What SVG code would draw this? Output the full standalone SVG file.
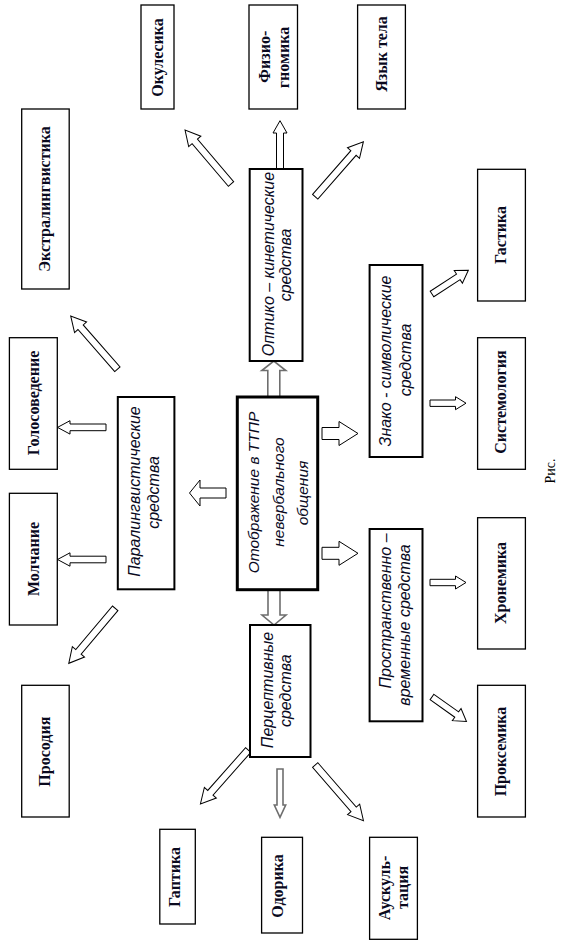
<svg xmlns="http://www.w3.org/2000/svg" width="568" height="943" viewBox="0 0 568 943">
<style>
.leaf{fill:#fff;stroke:#000;stroke-width:1.3}
.mid{fill:#fff;stroke:#000;stroke-width:2}
.core{fill:#fff;stroke:#000;stroke-width:3}
.lt{font-family:"Liberation Serif","Times New Roman",serif;font-weight:bold;font-size:16px;fill:#0a0a1e;text-anchor:middle}
.it{font-family:"Liberation Sans",Arial,sans-serif;font-style:italic;font-size:16px;fill:#0a0a1e;text-anchor:middle}
.itc{font-family:"Liberation Sans",Arial,sans-serif;font-style:italic;font-size:15.5px;fill:#0a0a1e;text-anchor:middle}
.arr{fill:#fff;stroke:#000;stroke-width:1}
.arrg{fill:#fff;stroke:#6e6e6e;stroke-width:1.6}
.cap{font-family:"Liberation Serif","Times New Roman",serif;font-size:14px;fill:#000;text-anchor:middle}
</style>
<rect width="568" height="943" fill="#fff"/>

<g id="connectors">
  <polygon class="arrg" points="267.8,397 267.8,370.5 261.8,370.5 273.8,361 285.8,370.5 279.8,370.5 279.8,397"/>
  <polygon class="arrg" points="268,590 268,615 262,615 274,625 286,615 280,615 280,590"/>
  <polygon class="arr" points="226,488 200,488 200,480 189.5,493 200,506 200,498 226,498"/>
  <polygon class="arr" points="322,427.5 339,427.5 339,421.5 358,433.5 339,445.5 339,439.5 322,439.5"/>
  <polygon class="arr" points="322,547.3 339,547.3 339,541.3 358,553.3 339,565.3 339,559.3 322,559.3"/>
  <polygon class="arr" points="106,424 70,424 70,420.7 57.5,427.4 70,434.1 70,430.7 106,430.7"/>
  <polygon class="arr" points="106,556.2 70,556.2 70,552.8 57.5,559.5 70,566.2 70,562.8 106,562.8"/>
  <polygon class="arr" transform="translate(117.4,369.3) rotate(-131.2)" points="0,-3.5 55.9,-3.5 55.9,-8 70.9,0 55.9,8 55.9,3.5 0,3.5"/>
  <polygon class="arr" transform="translate(115.2,608.3) rotate(130.15)" points="0,-3.5 57,-3.5 57,-8 72,0 57,8 57,3.5 0,3.5"/>
  <polygon class="arr" transform="translate(231,184) rotate(-130.4)" points="0,-3.5 55.9,-3.5 55.9,-8 70.9,0 55.9,8 55.9,3.5 0,3.5"/>
  <polygon class="arr" points="276.5,169 276.5,133 273,133 280,120.7 287,133 283.5,133 283.5,169"/>
  <polygon class="arr" transform="translate(315.2,196.7) rotate(-48.77)" points="0,-3.5 58.1,-3.5 58.1,-8 73.1,0 58.1,8 58.1,3.5 0,3.5"/>
  <polygon class="arr" transform="translate(432,294) rotate(-33.1)" points="0,-3.3 31.4,-3.3 31.4,-7.5 43.4,0 31.4,7.5 31.4,3.3 0,3.3"/>
  <polygon class="arr" points="430,400 455.5,400 455.5,396.7 466,403.2 455.5,409.7 455.5,406.4 430,406.4"/>
  <polygon class="arr" points="430,579.3 455.5,579.3 455.5,576 466,582.5 455.5,589 455.5,585.7 430,585.7"/>
  <polygon class="arr" transform="translate(432,697) rotate(35.4)" points="0,-3.3 30.3,-3.3 30.3,-7.5 42.3,0 30.3,7.5 30.3,3.3 0,3.3"/>
  <polygon class="arr" transform="translate(248.2,750) rotate(131.5)" points="0,-3.5 57.1,-3.5 57.1,-8 72.1,0 57.1,8 57.1,3.5 0,3.5"/>
  <polygon class="arrg" points="277,769 277,805 274.3,805 280,817.3 285.7,805 283,805 283,769"/>
  <polygon class="arr" transform="translate(315.2,765) rotate(49.1)" points="0,-3.5 58.7,-3.5 58.7,-8 73.7,0 58.7,8 58.7,3.5 0,3.5"/>
</g>

<g id="core">
  <rect class="core" x="237.3" y="397" width="80.4" height="192.7"/>
  <text class="itc" transform="translate(259,492.5) rotate(-90)">Отображение в ТТПР</text>
  <text class="itc" transform="translate(284,492) rotate(-90)">невербального</text>
  <text class="itc" transform="translate(307.5,493) rotate(-90)">общения</text>
</g>

<g id="optiko">
  <rect class="mid" x="249.7" y="169" width="52.8" height="192"/>
  <text class="it" transform="translate(274,264) rotate(-90)">Оптико – кинетические</text>
  <text class="it" transform="translate(290.8,265) rotate(-90)">средства</text>
</g>
<g id="znako">
  <rect class="mid" x="369.6" y="265" width="52.9" height="192"/>
  <text class="it" transform="translate(391,361) rotate(-90)">Знако - символические</text>
  <text class="it" transform="translate(410.8,360) rotate(-90)">средства</text>
</g>
<g id="prostr">
  <rect class="mid" x="369.6" y="529" width="52.9" height="192.3"/>
  <text class="it" transform="translate(391.3,611) rotate(-90)">Пространственно –</text>
  <text class="it" transform="translate(410.3,625) rotate(-90)">временные средства</text>
</g>
<g id="percept">
  <rect class="mid" x="250" y="625" width="60.5" height="132"/>
  <text class="it" transform="translate(272.5,690) rotate(-90)">Перцептивные</text>
  <text class="it" transform="translate(290.8,690.7) rotate(-90)">средства</text>
</g>
<g id="paraling">
  <rect class="mid" x="117.8" y="397" width="56.6" height="192.3"/>
  <text class="it" transform="translate(140,491.5) rotate(-90)">Паралингвистические</text>
  <text class="it" transform="translate(158.6,492.5) rotate(-90)">средства</text>
</g>

<g id="okulesika">
  <rect class="leaf" x="141" y="5" width="33" height="104"/>
  <text class="lt" transform="translate(163,57.5) rotate(-90)">Окулесика</text>
</g>
<g id="fiziognomika">
  <rect class="leaf" x="249" y="5" width="48.5" height="104"/>
  <text class="lt" transform="translate(269.5,56.7) rotate(-90)">Физио-</text>
  <text class="lt" transform="translate(289,57.5) rotate(-90)">гномика</text>
</g>
<g id="yazyk">
  <rect class="leaf" x="357.6" y="5" width="47.8" height="104"/>
  <text class="lt" transform="translate(386.5,54) rotate(-90)">Язык тела</text>
</g>
<g id="ekstra">
  <rect class="leaf" x="21.7" y="109" width="47.5" height="180"/>
  <text class="lt" transform="translate(49.5,199) rotate(-90)">Экстралингвистика</text>
</g>
<g id="golos">
  <rect class="leaf" x="9.4" y="337.7" width="47.9" height="131.6"/>
  <text class="lt" transform="translate(38.5,403) rotate(-90)">Голосоведение</text>
</g>
<g id="molchanie">
  <rect class="leaf" x="9.4" y="493.3" width="47.9" height="131.7"/>
  <text class="lt" transform="translate(38.5,559) rotate(-90)">Молчание</text>
</g>
<g id="prosodiya">
  <rect class="leaf" x="21.7" y="685.3" width="47.5" height="131.7"/>
  <text class="lt" transform="translate(49.5,751.7) rotate(-90)">Просодия</text>
</g>
<g id="gastika">
  <rect class="leaf" x="477.6" y="169.3" width="47.8" height="131.7"/>
  <text class="lt" transform="translate(505.5,235) rotate(-90)">Гастика</text>
</g>
<g id="sistemologiya">
  <rect class="leaf" x="477.6" y="337.7" width="47.8" height="131.6"/>
  <text class="lt" transform="translate(505.5,402) rotate(-90)">Системология</text>
</g>
<g id="hronemika">
  <rect class="leaf" x="477.6" y="517.7" width="47.8" height="131.3"/>
  <text class="lt" transform="translate(505.5,583) rotate(-90)">Хронемика</text>
</g>
<g id="proksemika">
  <rect class="leaf" x="477.6" y="685.3" width="47.8" height="131.7"/>
  <text class="lt" transform="translate(505.5,751.5) rotate(-90)">Проксемика</text>
</g>
<g id="gaptika">
  <rect class="leaf" x="159.8" y="829.3" width="35.5" height="94.7"/>
  <text class="lt" transform="translate(179.5,877) rotate(-90)">Гаптика</text>
</g>
<g id="odorika">
  <rect class="leaf" x="261.6" y="837.3" width="40.9" height="95.7"/>
  <text class="lt" transform="translate(283,886) rotate(-90)">Одорика</text>
</g>
<g id="auskultaciya">
  <rect class="leaf" x="369.6" y="837.3" width="47.8" height="102"/>
  <text class="lt" transform="translate(389.5,888) rotate(-90)">Аускуль-</text>
  <text class="lt" transform="translate(408,887.5) rotate(-90)">тация</text>
</g>

<text class="cap" transform="translate(555,471) rotate(-90)">Рис.</text>
</svg>
